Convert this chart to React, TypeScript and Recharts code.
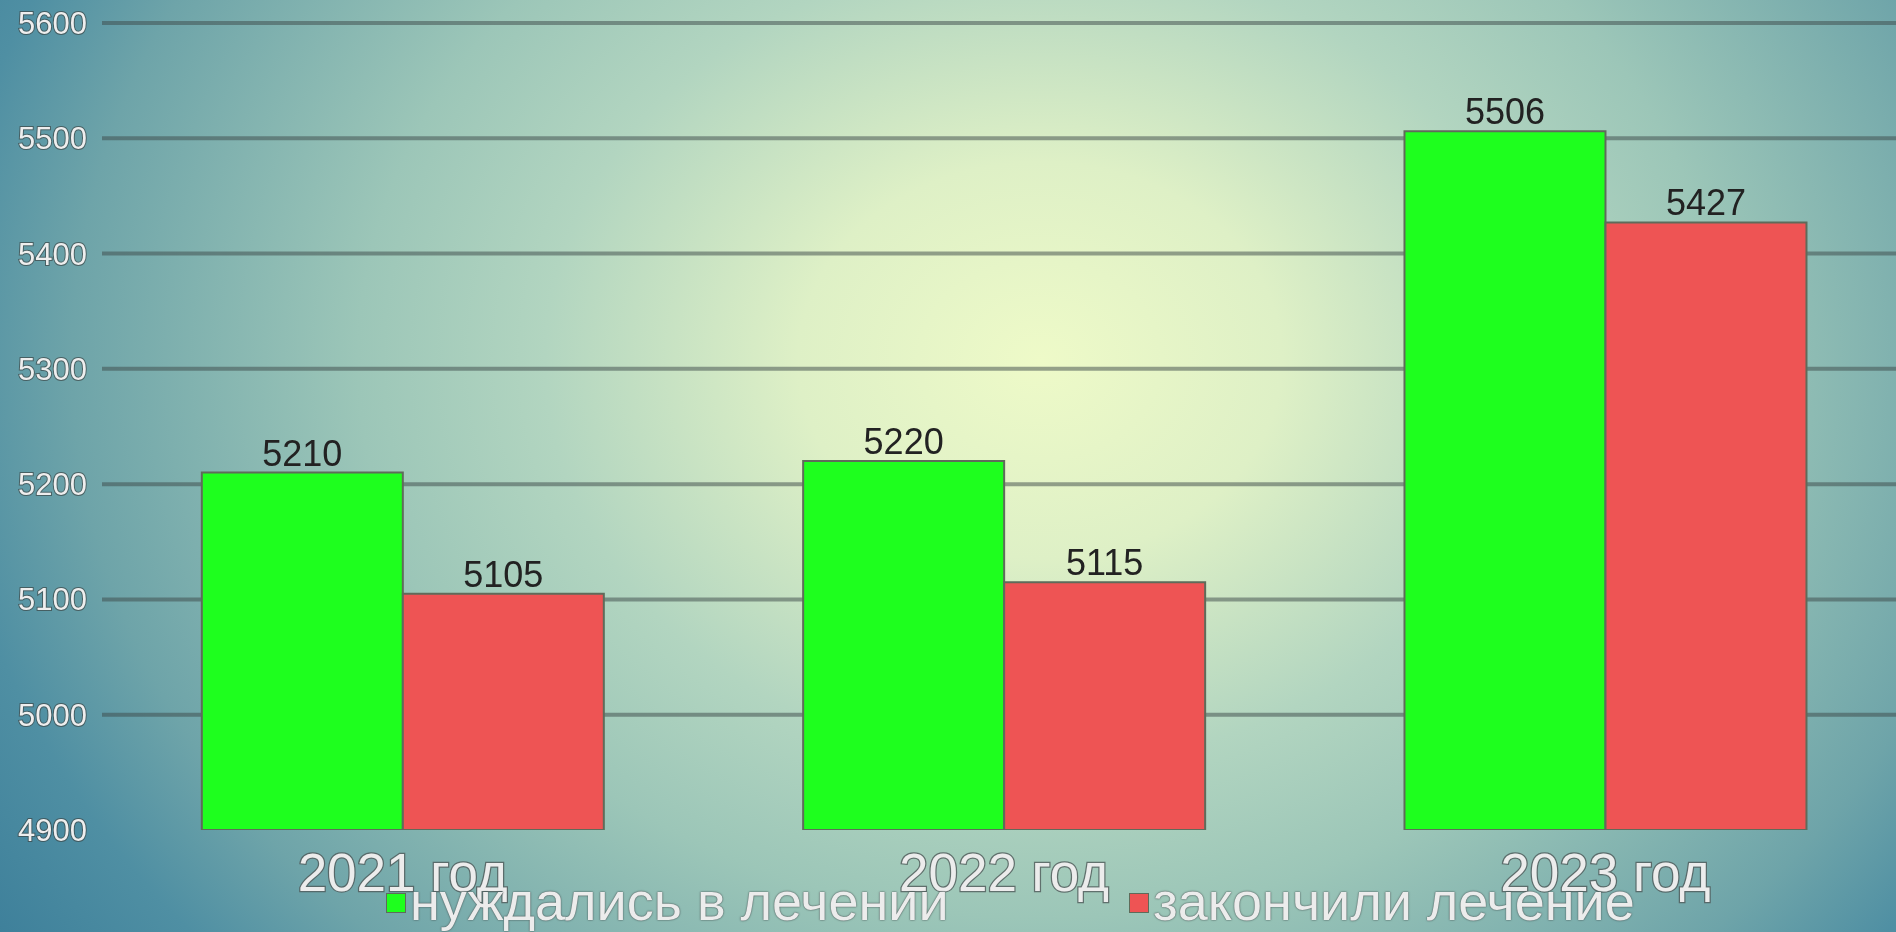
import React from "react";
import {
  BarChart,
  Bar,
  XAxis,
  YAxis,
  CartesianGrid,
  Legend,
  LabelList,
} from "recharts";

const YEARS = ["2021 год", "2022 год", "2023 год"];
const NEEDED = [5210, 5220, 5506];
const FINISHED = [5105, 5115, 5427];
const Y_TICKS = [4900, 5000, 5100, 5200, 5300, 5400, 5500, 5600];
const GRID_VALUES = [5000, 5100, 5200, 5300, 5400, 5500, 5600];

const SERIES = [
  { key: "needed", name: "нуждались в лечении", color: "#1eff1e" },
  { key: "finished", name: "закончили лечение", color: "#ee5454" },
];

const FONT = "'Liberation Sans', Arial, sans-serif";

const chartData = YEARS.map((year, i) => ({
  year,
  needed: NEEDED[i],
  finished: FINISHED[i],
}));

function YTick(props: any) {
  const { x, y, payload } = props;
  return (
    <text
      x={x}
      y={y}
      dy={11}
      textAnchor="end"
      fontSize={31}
      fontFamily={FONT}
      fill="#eeeeee"
      stroke="rgba(60,70,70,0.7)"
      strokeWidth={2}
      paintOrder="stroke"
    >
      {payload.value}
    </text>
  );
}

function XTick(props: any) {
  const { x, y, payload } = props;
  return (
    <text
      x={x}
      y={y}
      dy={61}
      textAnchor="middle"
      fontSize={53}
      fontFamily={FONT}
      fill="#ececec"
      stroke="rgba(80,90,90,0.8)"
      strokeWidth={2.5}
      paintOrder="stroke"
    >
      {payload.value}
    </text>
  );
}

// legend items are placed where they sit in the picture
const LEGEND_LEFT = [386, 1129];

function LegendContent() {
  return (
    <div style={{ position: "relative", height: 0 }}>
      {SERIES.map((s, i) => (
        <div
          key={s.key}
          style={{
            position: "absolute",
            left: LEGEND_LEFT[i],
            top: 0,
            whiteSpace: "nowrap",
          }}
        >
          <span
            style={{
              position: "absolute",
              left: 0,
              top: 19,
              width: 18,
              height: 18,
              background: s.color,
              border: "1px solid #5f6b5a",
            }}
          />
          <span
            style={{
              position: "absolute",
              left: 24,
              top: 0,
              fontFamily: FONT,
              fontSize: 54,
              lineHeight: "54px",
              color: "#ececec",
              textShadow:
                "0 0 2px rgba(70,80,80,0.9), 0 0 1px rgba(70,80,80,0.9)",
            }}
          >
            {s.name}
          </span>
        </div>
      ))}
    </div>
  );
}

export default function App() {
  return (
    <div
      style={{
        position: "fixed",
        left: 0,
        top: 0,
        width: 1896,
        height: 932,
        overflow: "hidden",
        background:
          "radial-gradient(ellipse 1100px 900px at 1040px 360px, #eefac8 0%, #def0c6 22%, #b2d5c0 45%, #9cc6b8 62%, #6ea4a9 88%, #4f8fa3 100%, #3d7f9a 115%)",
      }}
    >
      <BarChart
        width={1906}
        height={932}
        data={chartData}
        margin={{ top: 23, right: 0, left: 0, bottom: 0 }}
        barCategoryGap="16.6%"
        barGap={0}
      >
        <CartesianGrid
          vertical={false}
          horizontalValues={GRID_VALUES}
          stroke="rgba(60,72,72,0.5)"
          strokeWidth={4}
        />
        <XAxis
          dataKey="year"
          axisLine={false}
          tickLine={false}
          tickSize={0}
          tickMargin={0}
          height={102}
          interval={0}
          tick={<XTick />}
        />
        <YAxis
          domain={[4900, 5600]}
          ticks={Y_TICKS}
          allowDataOverflow
          axisLine={false}
          tickLine={false}
          tickSize={0}
          tickMargin={15}
          width={102}
          tick={<YTick />}
        />
        <Legend
          verticalAlign="bottom"
          content={<LegendContent />}
          wrapperStyle={{
            position: "absolute",
            left: 0,
            top: 874,
            bottom: "auto",
            height: 0,
            overflow: "visible",
          }}
        />
        {SERIES.map((s) => (
          <Bar
            key={s.key}
            dataKey={s.key}
            name={s.name}
            fill={s.color}
            stroke="#5f6b5a"
            strokeWidth={2}
            isAnimationActive={false}
          >
            <LabelList
              dataKey={s.key}
              position="top"
              offset={7}
              fill="#222222"
              fontSize={36}
              fontFamily={FONT}
            />
          </Bar>
        ))}
      </BarChart>
    </div>
  );
}
